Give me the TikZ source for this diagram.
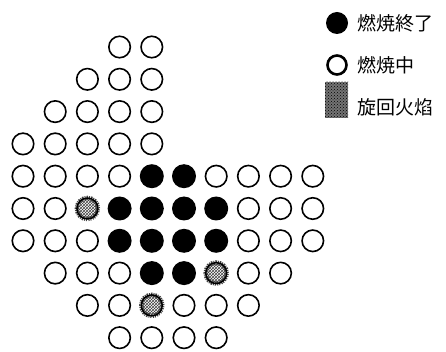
\documentclass[tikz,border=0pt]{standalone}
\usepackage{fontspec}
\newfontfamily\cjk{Noto Sans CJK JP}
\usetikzlibrary{patterns}
\begin{document}
\begin{tikzpicture}[x=1pt,y=-1pt,
  opn/.style={circle, draw, line width=1.6pt, minimum size=21.5pt, inner sep=0pt},
  brn/.style={circle, fill=black, minimum size=24pt, inner sep=0pt},
  swl/.style={circle, draw=black, line width=1.5pt, minimum size=21pt, inner sep=0pt,
    pattern=crosshatch, pattern color=black!75,
    preaction={draw=black!75, line width=4.5pt, dash pattern=on 1pt off 1pt}},
  lbl/.style={anchor=west, inner sep=0pt, font=\cjk\fontsize{19}{22}\selectfont}]
\useasboundingbox (0,0) rectangle (446,352);
\foreach \r/\c/\t in {0/3/opn,0/4/opn,
  1/2/opn,1/3/opn,1/4/opn,
  2/1/opn,2/2/opn,2/3/opn,2/4/opn,
  3/0/opn,3/1/opn,3/2/opn,3/3/opn,3/4/opn,
  4/0/opn,4/1/opn,4/2/opn,4/3/opn,4/4/brn,4/5/brn,4/6/opn,4/7/opn,4/8/opn,4/9/opn,
  5/0/opn,5/1/opn,5/2/swl,5/3/brn,5/4/brn,5/5/brn,5/6/brn,5/7/opn,5/8/opn,5/9/opn,
  6/0/opn,6/1/opn,6/2/opn,6/3/brn,6/4/brn,6/5/brn,6/6/brn,6/7/opn,6/8/opn,6/9/opn,
  7/1/opn,7/2/opn,7/3/opn,7/4/brn,7/5/brn,7/6/swl,7/7/opn,7/8/opn,
  8/2/opn,8/3/opn,8/4/swl,8/5/opn,8/6/opn,8/7/opn,
  9/3/opn,9/4/opn,9/5/opn,9/6/opn}
  \node[\t] (n\r\c) at ({23+32.2*\c},{47+32.3*\r}) {};
% legend
\node[brn, minimum size=22pt] (lb) at (337,23) {};
\node[opn, line width=2.6pt, minimum size=19pt] (lo) at (337,65) {};
\node[draw=none, fill=black!55, postaction={pattern=crosshatch dots, pattern color=black}, minimum width=23pt, minimum height=36pt, inner sep=0pt] (ls) at (336.5,100) {};
\node[lbl] (tb) at (357,23) {燃焼終了};
\node[lbl] (to) at (357,65) {燃焼中};
\node[lbl] (ts) at (357,107) {旋回火焰};
\end{tikzpicture}
\end{document}
